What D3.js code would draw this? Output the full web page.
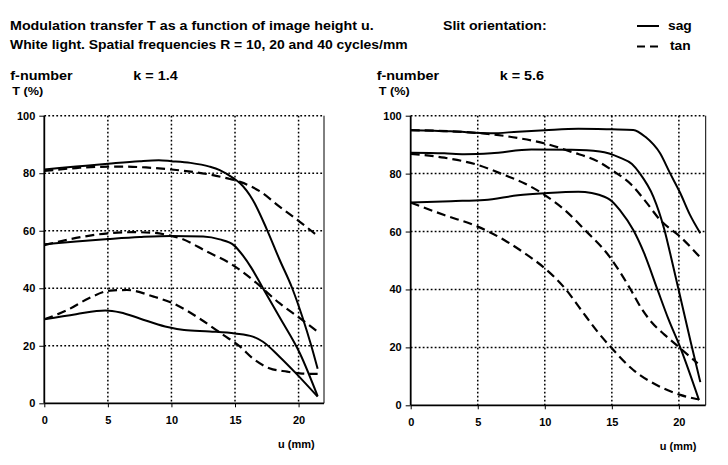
<!DOCTYPE html>
<meta charset="utf-8">
<style type="text/css">
body { margin: 0; background: #fff; }
svg text { font-family: Arial, "Liberation Sans", sans-serif; font-weight: bold; fill: #000; }
.grid line { stroke: #000; stroke-width: 1.5; stroke-dasharray: 1.8,2.2; }
.axis path { stroke: #000; stroke-width: 1.8; }
.axis line { stroke: #000; stroke-width: 1; }
.curve { fill: none; stroke: #000; stroke-width: 2; }
.tan { stroke-dasharray: 9,5; stroke-width: 2.2; }
</style>
<body>
<script src="https://d3js.org/d3.v7.min.js"></script>
<script type="text/javascript">

var uTicks = [0, 5, 10, 15, 20];
var tTicks = [0, 20, 40, 60, 80, 100];

// k = 1.4, [u (mm), T (%)]
var k14_sag10 = [[0,81.3],[2.5,82.3],[5,83.3],[7.5,84.2],[9,84.5],[10,84.2],[11.5,83.6],[13,82.3],[13.8,81.1],[14.9,78.2],[15.4,76.5],[16.4,70.7],[17.5,60.5],[18.5,50],[19.5,40],[20.3,30],[21,20],[21.5,12]];
var k14_tan10 = [[0,80.8],[2.5,81.8],[4,82.2],[6.2,82.3],[8,82],[10,81.3],[12.8,79.7],[14.6,78],[15.4,77],[17,73.6],[18.5,68.4],[20.1,63.1],[21.5,58.2]];
var k14_sag20 = [[0,55.3],[2.5,56.3],[5,57.1],[7.5,57.8],[10,58.2],[12.5,58],[13.8,57],[14.9,55],[15.6,51.5],[16.3,47],[17.2,40],[18.5,30],[20.1,17.4],[21.5,2.5]];
var k14_tan20 = [[0,55],[2.5,57.5],[5,59.1],[7,59.5],[8.6,59.3],[10,58.2],[10.7,57.4],[12.8,52.7],[14.6,48.7],[16.4,42.9],[18.5,34.8],[20.1,29.6],[21.5,24.9]];
var k14_sag40 = [[0,29.2],[2.5,31],[4.8,32.3],[6,31.6],[7.5,29.5],[9.5,26.7],[11,25.5],[13,25],[15,24.3],[16.4,23.2],[17.2,21.4],[18.5,16.2],[19.8,10.4],[21.5,2.3]];
var k14_tan40 = [[0,29.2],[1.8,32.4],[3.5,36.5],[5.2,39.2],[6.5,39.4],[8.6,37.1],[10.1,34.8],[12.2,29.5],[14.1,23.7],[15.4,19.7],[16.4,15.6],[17.7,12.2],[19.1,11],[20.1,10.4],[21.5,10.2]];

// k = 5.6
var k56_sag10 = [[0,95],[3,94.6],[6,93.9],[8,94.5],[10,95],[12.5,95.5],[15,95.3],[16.6,95.1],[17.5,92.7],[18.6,87],[19.3,80.5],[20.1,73.3],[20.8,66],[21.6,59.4]];
var k56_tan10 = [[0,95],[3,94.6],[6,93.6],[8,92.3],[10,90.4],[12,87.5],[14,84.1],[15,81.2],[16.5,76],[17.5,70.5],[18.6,64],[20.1,58.2],[21.6,51]];
var k56_sag20 = [[0,87.2],[2.5,87],[4,86.7],[6,87],[9,88.3],[12,88.2],[14.1,87.6],[15.6,85.5],[16.5,83.3],[17.1,80],[18.1,72],[18.9,61],[19.5,49.5],[20.2,35.5],[20.9,21.5],[21.6,8]];
var k56_tan20 = [[0,86.8],[2.5,85.5],[5,83],[7,79.5],[8.5,76.6],[10,72.6],[11.5,67.4],[13,60.5],[14.8,51.5],[16.4,40],[17.2,33.5],[18,28.5],[18.9,24.5],[19.9,20.5],[21.4,14.5]];
var k56_sag40 = [[0,70],[3,70.5],[5.5,70.9],[8,72.5],[10,73.2],[12.5,73.7],[13.5,73.3],[14.1,72.6],[15,70.5],[15.6,67.4],[16.6,60.5],[17.4,52.6],[18.4,40],[19.2,30],[20.1,20],[21.5,1.8]];
var k56_tan40 = [[0,70],[2.5,65.7],[5,61.7],[7,57],[8.5,52.5],[10,47.3],[11.5,40.4],[12.7,33],[13.9,25.6],[14.9,20.2],[16.6,12.2],[18.6,6.4],[20.1,3.6],[21.5,2]];

var svg = d3.select("body").append("svg")
  .attr("width", 728)
  .attr("height", 465);

// header text in the reference is a bit wider than Arial, so stretch it
function txt(x, y, s, size, sx) {
  return svg.append("text")
    .attr("transform", "translate(" + x + "," + y + ") scale(" + (sx || 1) + ",1)")
    .style("font-size", size + "px")
    .text(s);
}

// header
txt(10, 30, "Modulation transfer T as a function of image height u.", 12, 1.19);
txt(10, 49, "White light. Spatial frequencies R = 10, 20 and 40 cycles/mm", 12, 1.16);
txt(443, 30, "Slit orientation:", 12, 1.18);
txt(668, 30, "sag", 12, 1.15);
txt(670, 50, "tan", 12, 1.15);
svg.append("line").attr("class", "curve")
  .attr("x1", 637).attr("x2", 659).attr("y1", 26).attr("y2", 26);
svg.append("line").attr("class", "curve")
  .attr("x1", 637).attr("x2", 660).attr("y1", 46.5).attr("y2", 46.5)
  .style("stroke-dasharray", "8,5");

function panel(left, right, top, bottom, kLabel, series) {
  var x = d3.scaleLinear().domain([0, 22]).range([left, right]);
  var y = d3.scaleLinear().domain([0, 100]).range([bottom, top]);
  var g = svg.append("g");

  // dotted grid
  g.append("g").attr("class", "grid")
    .selectAll("line").data(uTicks.slice(1)).enter().append("line")
    .attr("x1", x).attr("x2", x).attr("y1", top).attr("y2", bottom);
  g.append("g").attr("class", "grid")
    .selectAll("line").data(tTicks.slice(1)).enter().append("line")
    .attr("x1", left).attr("x2", right).attr("y1", y).attr("y2", y);

  // right border
  g.append("line")
    .attr("x1", right).attr("x2", right).attr("y1", top).attr("y2", bottom)
    .style("stroke", "#000").style("stroke-width", 1);

  g.append("g").attr("class", "axis")
    .attr("transform", "translate(" + left + ",0)")
    .call(d3.axisLeft(y).tickValues(tTicks).tickSize(5).tickSizeOuter(0).tickPadding(4))
    .selectAll("text").style("font-size", "11px").style("font-family", null);

  g.append("g").attr("class", "axis")
    .attr("transform", "translate(0," + bottom + ")")
    .call(d3.axisBottom(x).tickValues(uTicks).tickSize(4).tickSizeOuter(0).tickPadding(9))
    .selectAll("text").style("font-size", "11px").style("font-family", null);

  g.selectAll(".axis .domain").attr("d", null);
  // plain axis lines
  g.append("line").attr("x1", left).attr("x2", left).attr("y1", top).attr("y2", bottom)
    .style("stroke", "#000").style("stroke-width", 1.8);
  g.append("line").attr("x1", left).attr("x2", right).attr("y1", bottom).attr("y2", bottom)
    .style("stroke", "#000").style("stroke-width", 1.8);

  var line = d3.line()
    .x(function(d) { return x(d[0]); })
    .y(function(d) { return y(d[1]); })
    .curve(d3.curveMonotoneX);

  series.forEach(function(s) {
    g.append("path")
      .attr("class", s.tan ? "curve tan" : "curve")
      .attr("d", line(s.data));
  });

  txt(left - 34, 80, "f-number", 12, 1.2);
  txt(left + 89, 80, kLabel, 12, 1.2);
  txt(left - 32, 95, "T (%)", 11, 1.15);
  txt(right - 46, bottom + 45, "u (mm)", 11);
}

panel(44.3, 324, 115.7, 403.3, "k = 1.4", [
  {data: k14_sag10}, {data: k14_tan10, tan: true},
  {data: k14_sag20}, {data: k14_tan20, tan: true},
  {data: k14_sag40}, {data: k14_tan40, tan: true}
]);

panel(410.7, 705.7, 115.7, 405.3, "k = 5.6", [
  {data: k56_sag10}, {data: k56_tan10, tan: true},
  {data: k56_sag20}, {data: k56_tan20, tan: true},
  {data: k56_sag40}, {data: k56_tan40, tan: true}
]);

</script>
